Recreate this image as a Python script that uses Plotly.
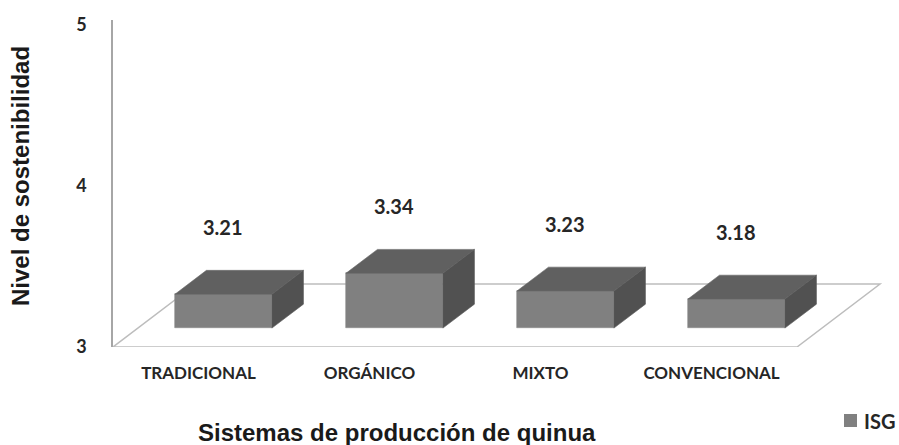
import plotly.graph_objects as go

# ---- data ----
categories = ["TRADICIONAL", "ORGÁNICO", "MIXTO", "CONVENCIONAL"]
values = [3.21, 3.34, 3.23, 3.18]
y_ticks = [3, 4, 5]
series_name = "ISG"
x_title = "Sistemas de producción de quinua"
y_title = "Nivel de sostenibilidad"

# ---- geometry of the oblique 3D look (in axis units) ----
PX_CAT = 171.0     # pixels per category
PX_UNIT = 161.0    # pixels per value unit
DX = 83.0 / PX_CAT   # full floor depth, x component
DY = 63.0 / PX_UNIT  # full floor depth, y component
ZF, ZB = 0.30, 0.68  # bar front / back depth fraction
BW = 97.0 / PX_CAT   # bar width
Y0 = y_ticks[0]

W, H = 899, 445
ML, MR, MT, MB = 113, 9, 20, 98
plot_w = W - ML - MR
plot_h = H - MT - MB

FRONT = "#808080"
TOP = "#606060"
SIDE = "#515151"


def px_x(p):
    return (p - ML) / plot_w


def px_y(p):
    return (H - MB - p) / plot_h


fig = go.Figure()

centers = [i + 0.5 for i in range(len(categories))]

# front faces as a real bar trace
fig.add_trace(go.Bar(
    x=[c + ZF * DX for c in centers],
    y=[v - Y0 for v in values],
    base=Y0 + ZF * DY,
    width=BW,
    marker=dict(color=FRONT, line=dict(width=0.6, color="#8c8c8c")),
    name=series_name,
    showlegend=False,
    hoverinfo="skip",
))

# top and side faces
for c, v in zip(centers, values):
    xl, xr = c - BW / 2, c + BW / 2
    top_x = [xl + ZF * DX, xr + ZF * DX, xr + ZB * DX, xl + ZB * DX, xl + ZF * DX]
    top_y = [v + ZF * DY, v + ZF * DY, v + ZB * DY, v + ZB * DY, v + ZF * DY]
    fig.add_trace(go.Scatter(x=top_x, y=top_y, fill="toself", fillcolor=TOP,
                             mode="lines", line=dict(color="#6a6a6a", width=0.6),
                             showlegend=False, hoverinfo="skip"))
    side_x = [xr + ZF * DX, xr + ZB * DX, xr + ZB * DX, xr + ZF * DX, xr + ZF * DX]
    side_y = [v + ZF * DY, v + ZB * DY, Y0 + ZB * DY, Y0 + ZF * DY, v + ZF * DY]
    fig.add_trace(go.Scatter(x=side_x, y=side_y, fill="toself", fillcolor=SIDE,
                             mode="lines", line=dict(color="#5a5a5a", width=0.6),
                             showlegend=False, hoverinfo="skip"))

# value labels
for c, v in zip(centers, values):
    fig.add_annotation(x=c + ZF * DX, y=v + ZB * DY + 43.0 / PX_UNIT,
                       text=f"{v:.2f}", showarrow=False,
                       font=dict(family="Lato", size=20, color="#262626", weight="bold"),
                       xanchor="center", yanchor="middle")

# floor outline
n = len(categories)
fig.add_shape(type="path",
              path=f"M 0 {Y0} L {n} {Y0} L {n + DX} {Y0 + DY} L {DX} {Y0 + DY} Z",
              xref="x", yref="y", layer="below",
              line=dict(color="#bdbdbd", width=1.5))

# legend (square + label)
fig.add_shape(type="rect", xref="paper", yref="paper",
              x0=px_x(844), x1=px_x(857), y0=px_y(427), y1=px_y(414),
              fillcolor=FRONT, line=dict(width=0))
fig.add_annotation(xref="paper", yref="paper", x=px_x(862), y=px_y(421),
                   text=series_name, showarrow=False,
                   font=dict(family="Lato", size=20, color="#262626", weight="bold"),
                   xanchor="left", yanchor="middle")

# axis titles
fig.add_annotation(xref="paper", yref="paper",
                   x=px_x(397), y=px_y(432),
                   text=f"<b>{x_title}</b>", showarrow=False,
                   font=dict(family="Liberation Sans", size=24, color="#1a1a1a"),
                   xanchor="center", yanchor="middle")
fig.add_annotation(xref="paper", yref="paper",
                   x=px_x(20), y=px_y(176),
                   text=f"<b>{y_title}</b>", showarrow=False, textangle=-90,
                   font=dict(family="Liberation Sans", size=24, color="#1a1a1a"),
                   xanchor="center", yanchor="middle")

fig.update_layout(
    width=W, height=H,
    margin=dict(l=ML, r=MR, t=MT, b=MB, pad=0, autoexpand=False),
    paper_bgcolor="white", plot_bgcolor="white",
    bargap=0,
    showlegend=False,
    xaxis=dict(range=[0, plot_w / PX_CAT], tickvals=centers, ticktext=categories,
               showgrid=False, zeroline=False, showline=False, ticks="",
               ticklabelstandoff=14,
               tickfont=dict(family="Lato", size=17, color="#262626", weight="bold"),
               fixedrange=True),
    yaxis=dict(range=[Y0, Y0 + plot_h / PX_UNIT], tickvals=y_ticks,
               showgrid=False, zeroline=False, showline=True, linecolor="#a6a6a6",
               linewidth=1.5, ticks="", ticklabelstandoff=21,
               tickfont=dict(family="Lato", size=18, color="#262626", weight="bold"),
               fixedrange=True),
)

fig.write_html("out.html", config={"displayModeBar": False},
               post_script="document.body.style.margin='0';document.body.style.overflow='hidden';")
